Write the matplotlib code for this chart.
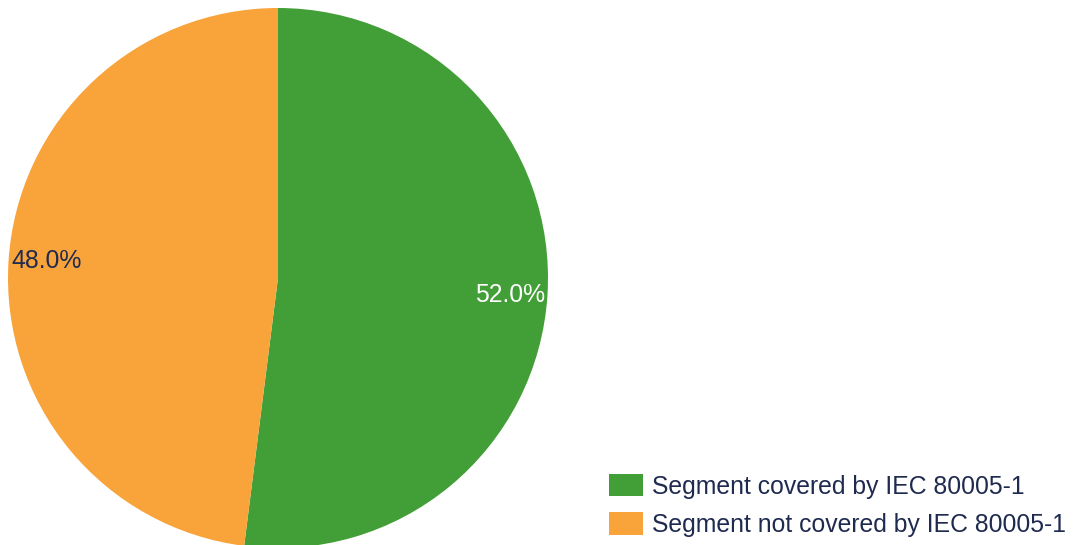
import matplotlib
matplotlib.use("Agg")
import matplotlib.pyplot as plt

# data
labels = ["Segment covered by IEC 80005-1", "Segment not covered by IEC 80005-1"]
shares = [52.0, 48.0]
colors = ["#429e36", "#f9a33b"]
pct_colors = ["white", "#1f2a4f"]

plt.rcParams["font.family"] = ["Liberation Sans", "DejaVu Sans"]

fig = plt.figure(figsize=(10.73, 5.45), dpi=100)
ax = fig.add_axes([8 / 1073, -3 / 545, 540 / 1073, 540 / 545])

wedges, texts, autotexts = ax.pie(
    shares,
    colors=colors,
    startangle=90,
    counterclock=False,
    autopct="%1.1f%%",
    pctdistance=0.99,
    radius=1.0,
    textprops={"fontsize": 17.8},
)
ax.set_xlim(-1, 1)
ax.set_ylim(-1, 1)
ax.set_aspect("equal")

# labels sit on the rim, pushed inside the slice
for t, c in zip(autotexts, pct_colors):
    x, y = t.get_position()
    t.set_color(c)
    t.set_ha("right" if x > 0 else "left")
    t.set_va("center")

fig.legend(
    wedges,
    labels,
    loc="lower left",
    bbox_to_anchor=(609 / 1073, 8 / 545),
    frameon=False,
    fontsize=17.8,
    labelcolor="#1f2a4f",
    handlelength=1.38,
    handleheight=1.0,
    handletextpad=0.36,
    labelspacing=0.55,
    borderpad=0,
    borderaxespad=0,
)

fig.savefig("out.png", dpi=100)
